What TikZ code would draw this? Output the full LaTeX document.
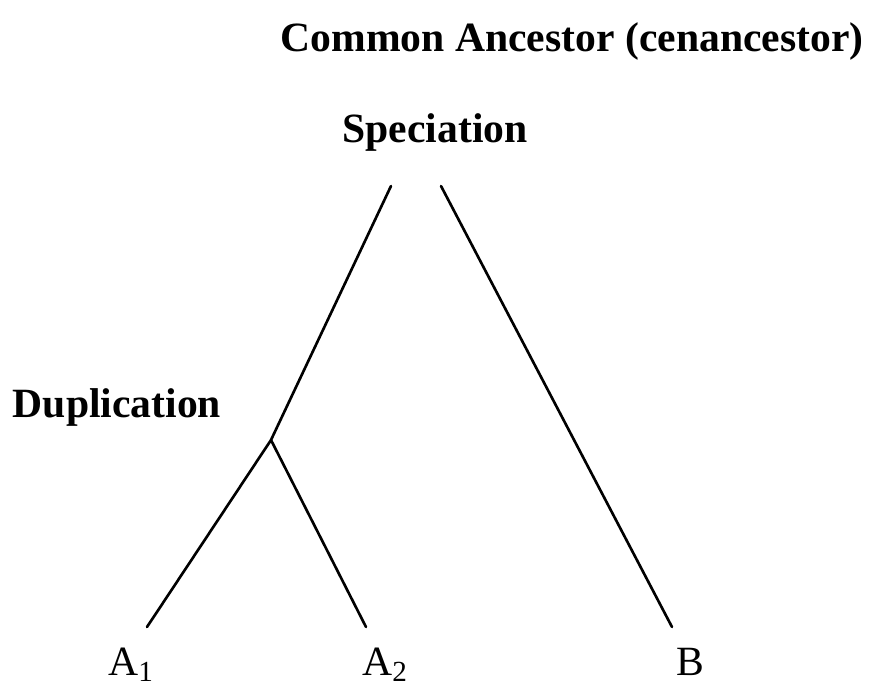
\documentclass[tikz,border=0pt]{standalone}
\usepackage{fontspec}
\setmainfont{Liberation Serif}
\usetikzlibrary{positioning}

\begin{document}
\begin{tikzpicture}[
  x=0.02cm, y=-0.02cm,
  every node/.append style={font=\fontsize{23.7}{28}\selectfont, inner sep=0pt},
  lbl/.style={font=\fontsize{23.7}{28}\selectfont\bfseries, anchor=base},
  leaf/.style={anchor=base west},
  branch/.style={line width=1.5pt, line cap=round},
]
\useasboundingbox (0,0) rectangle (869,685);
% event labels
\node[lbl] (anc) at (572,52) {Common Ancestor (cenancestor)};
\node[lbl] (spec) at (435,143) {Speciation};
\node[lbl] (dupl) at (117,418) {Duplication};
% gene leaves
\node[leaf] (a1) at (108,675) {A\textsubscript{1}};
\node[leaf] (a2) at (362,675) {A\textsubscript{2}};
\node[leaf] (b) at (676,675) {B};
% branch points
\coordinate (sl) at (391,186);
\coordinate (sr) at (441,186);
\coordinate (dup) at (271,440);
\coordinate (a1top) at (147,627);
\coordinate (a2top) at (366,627);
\coordinate (btop) at (672,627);
% branches
\draw[branch] (sl) -- (dup);
\draw[branch] (dup) -- (a1top);
\draw[branch] (dup) -- (a2top);
\draw[branch] (sr) -- (btop);
\end{tikzpicture}
\end{document}
